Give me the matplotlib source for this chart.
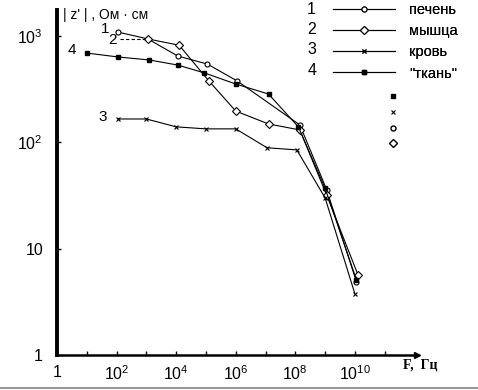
import numpy as np
import matplotlib.pyplot as plt
from matplotlib.lines import Line2D

plt.rcParams['font.family'] = ['Liberation Sans', 'DejaVu Sans']
plt.rcParams['mathtext.fontset'] = 'custom'
plt.rcParams['mathtext.rm'] = 'Liberation Sans'
plt.rcParams['mathtext.it'] = 'Liberation Sans'

# frequency exponents (log10 F, Hz) and |z'| values, Ohm*cm
f_liver = [2.05, 3.05, 4.05, 5.05, 6.05, 8.15, 9.05, 10.05]
z_liver = [1090, 940, 650, 545, 378, 146, 36, 4.9]

f_muscle = [3.05, 4.1, 5.1, 6.0, 7.1, 8.15, 9.05, 10.1]
z_muscle = [940, 820, 378, 197, 149, 131, 32, 5.7]

f_blood = [2.05, 3.0, 4.0, 5.0, 6.0, 7.05, 8.05, 9.0, 10.0]
z_blood = [166, 166, 140, 134, 134, 89, 85, 30, 3.75]

f_tissue = [1.0, 2.05, 3.1, 4.05, 4.95, 6.0, 7.1, 8.1, 9.0, 10.05]
z_tissue = [692, 636, 596, 534, 450, 354, 285, 140, 37, 5.1]

names = ['печень', 'мышца', 'кровь', '"ткань"']
nums = ['1', '2', '3', '4']

fig = plt.figure(figsize=(4.78, 3.90), dpi=100)
ax = fig.add_axes([0.1192, 0.0897, 0.753, 0.8846])

kw = dict(color='black', lw=0.8)
l1, = ax.plot(10.0 ** np.array(f_liver), z_liver, marker='o', ms=3.6,
              mfc='white', mec='black', mew=0.8, **kw)
l2, = ax.plot(10.0 ** np.array(f_muscle), z_muscle, marker='D', ms=4,
              mfc='white', mec='black', mew=0.8, **kw)
l3, = ax.plot(10.0 ** np.array(f_blood), z_blood, marker='x', ms=3.2,
              mew=0.8, **kw)
l4, = ax.plot(10.0 ** np.array(f_tissue), z_tissue, marker='s', ms=2.5,
              mfc='black', mec='black', **kw)

ax.set_xscale('log')
ax.set_yscale('log')
ax.set_xlim(1, 10 ** 12.08)
ax.set_ylim(1, 10 ** 3.245)

for s in ['top', 'right']:
    ax.spines[s].set_visible(False)
ax.spines['left'].set_linewidth(2.8)
ax.spines['bottom'].set_linewidth(1.8)
ax.plot(1, 0, '>k', ms=5, transform=ax.transAxes, clip_on=False)

ax.set_xticks([10.0 ** k for k in range(0, 12)], minor=False)
ax.set_xticklabels(['1', '', '$10^2$', '', '$10^4$', '', '$10^6$', '',
                    '$10^8$', '', '$10^{10}$', ''])
ax.xaxis.set_minor_locator(plt.NullLocator())
ax.set_yticks([1, 10, 100, 1000])
ax.set_yticklabels(['1', '10', '$10^2$', '$10^3$'])
ax.yaxis.set_minor_locator(plt.NullLocator())
ax.tick_params(axis='both', direction='in', length=3, width=1, labelsize=11.5)
ax.tick_params(axis='x', pad=7)
ax.tick_params(axis='y', pad=10)

# axis captions
fig.text(0.132, 0.962, "| z' | , Ом · см", fontsize=10, ha='left', va='center')
fig.text(0.843, 0.064, 'F,  Гц', fontsize=10, fontweight='bold',
         family=['Liberation Serif', 'DejaVu Serif'], ha='left', va='center')

# curve numbers
ax.text(10 ** 1.62, 10 ** 3.07, '1', fontsize=11, ha='center', va='center')
ax.text(10 ** 1.86, 10 ** 2.96, '2', fontsize=11, ha='center', va='center')
ax.text(10 ** 0.5, 10 ** 2.87, '4', fontsize=11, ha='center', va='center')
ax.text(10 ** 1.55, 10 ** 2.24, '3', fontsize=11, ha='center', va='center')
ax.plot([10 ** 2.1, 10 ** 2.95], [10 ** 2.975, 10 ** 2.975], color='black',
        lw=0.8, ls=(0, (3, 2)))

# legend
leg = fig.legend([l1, l2, l3, l4], names, loc='upper left',
                 bbox_to_anchor=(0.685, 1.008), frameon=False, fontsize=10.5,
                 handlelength=4.2, handletextpad=1.0, labelspacing=0.5,
                 borderaxespad=0)
for i, n in enumerate(nums):
    fig.text(0.652, 0.975 - i * 0.0515, n, fontsize=11.5, ha='center',
             va='center')

# stray markers column
h = [Line2D([], [], ls='none', marker='s', ms=2.5, mfc='black', mec='black'),
     Line2D([], [], ls='none', marker='x', ms=3, mec='black', mew=0.8),
     Line2D([], [], ls='none', marker='o', ms=3.6, mfc='white', mec='black'),
     Line2D([], [], ls='none', marker='D', ms=4, mfc='white', mec='black')]
leg2 = fig.legend(h, ['', '', '', ''], loc='upper left',
                  bbox_to_anchor=(0.803, 0.775), frameon=False, fontsize=7.5,
                  handlelength=1, labelspacing=0.55, borderaxespad=0)
fig.add_artist(leg)

fig.add_artist(Line2D([0, 1], [0.005, 0.005], color='#999999', lw=1.5))

fig.savefig('out.png', dpi=100)
